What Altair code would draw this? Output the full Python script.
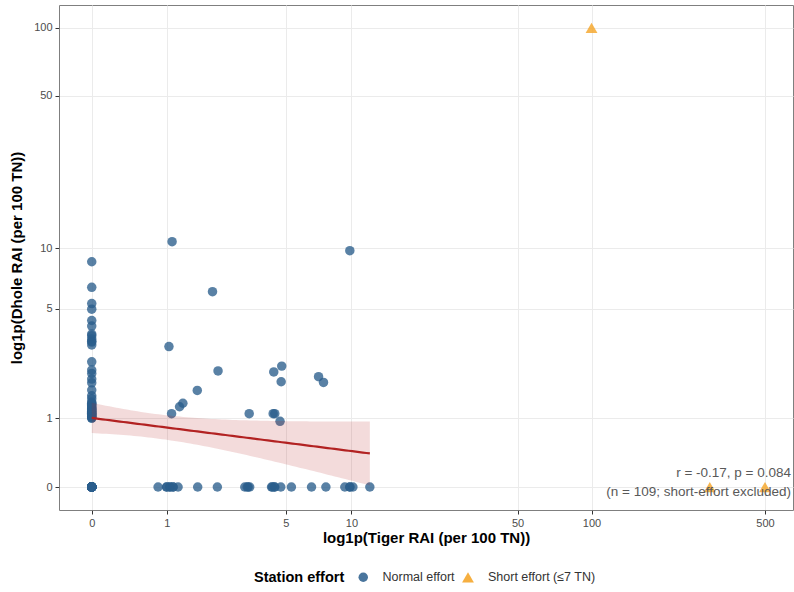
import numpy as np
import pandas as pd
import altair as alt

# ---- Station RAI values (detections per 100 trap nights) ----
# Normal-effort stations, grouped by where they fall
# stations with neither species detected
origin_tiger = [0] * 22
origin_dhole = [0] * 22

# tiger absent, dhole present
col_dhole = [8.62, 6.44, 5.32, 4.97, 4.33, 4.04, 3.65, 3.43, 3.29, 3.17,
             2.52, 2.24, 2.13, 1.96, 1.65, 1.50, 1.35, 1.24, 1.17, 1.10, 1.03,
             1.00, 1.00, 1.02, 1.04, 1.06, 1.06, 1.08, 1.10, 1.12, 1.14, 1.15,
             1.18, 1.20, 1.22, 1.27, 1.30, 1.32, 3.33, 3.57, 1.85, 1.43]
col_tiger = [0] * len(col_dhole)

# tiger present, dhole absent
row_tiger = [0.845, 0.994, 1.056, 1.119, 1.219, 1.66, 2.19, 3.11, 3.24, 3.30,
             4.26, 4.42, 4.73, 5.32, 6.61, 7.69, 9.35, 9.84, 10.15, 12.04,
             1.00, 1.06, 1.12, 3.20, 4.30, 4.40, 9.84]
row_dhole = [0] * len(row_tiger)

# both species detected
both_tiger = [2.05, 1.04, 2.21, 1.65, 1.32, 1.25, 1.09, 3.28, 4.34, 4.42,
              4.69, 4.37, 4.78, 4.75, 7.12, 7.50, 1.10, 9.84]
both_dhole = [6.12, 3.10, 2.21, 1.64, 1.32, 1.24, 1.09, 1.09, 1.09, 1.09,
              0.935, 2.18, 2.37, 1.88, 2.03, 1.86, 10.77, 9.75]

# Short-effort stations (<= 7 trap nights)
short_tiger = [100, 300, 500]
short_dhole = [100, 0, 0]

effort_labels = ["Normal effort", "Short effort (\u22647 TN)"]
stat_lines = ["r = -0.17, p = 0.084", "(n = 109; short-effort excluded)"]

normal_tiger = origin_tiger + col_tiger + row_tiger + both_tiger
normal_dhole = origin_dhole + col_dhole + row_dhole + both_dhole

points = pd.DataFrame({
    "tiger": normal_tiger + short_tiger,
    "dhole": normal_dhole + short_dhole,
    "effort": [effort_labels[0]] * len(normal_tiger) + [effort_labels[1]] * len(short_tiger),
})

# ---- Linear fit on the log1p scale (normal effort only), 95% band ----
X = np.log1p(np.array(normal_tiger, dtype=float))
Y = np.log1p(np.array(normal_dhole, dtype=float))
n = len(X)
slope, intercept = np.polyfit(X, Y, 1)
resid = Y - (intercept + slope * X)
s = np.sqrt(np.sum(resid ** 2) / (n - 2))
sxx = np.sum((X - X.mean()) ** 2)
t_crit = 1.982  # t quantile, 0.975, df = n - 2
grid = np.linspace(X.min(), X.max(), 80)
fit = intercept + slope * grid
se = s * np.sqrt(1.0 / n + (grid - X.mean()) ** 2 / sxx)


def inv_log1p(v):
    # inverse of the symmetric log1p scale used on both axes
    return np.sign(v) * np.expm1(np.abs(v))


fit_df = pd.DataFrame({
    "tiger": inv_log1p(grid),
    "fit": inv_log1p(fit),
    "lo": inv_log1p(fit - t_crit * se),
    "hi": inv_log1p(fit + t_crit * se),
})

FONT = "Liberation Sans"

x_scale = alt.Scale(type="symlog", constant=1, domain=[-0.353, 648], nice=False, zero=False)
y_scale = alt.Scale(type="symlog", constant=1, domain=[-0.26, 126], nice=False, zero=False)

x_axis = alt.Axis(values=[0, 1, 5, 10, 50, 100, 500], format="d",
                  title="log1p(Tiger RAI (per 100 TN))", labelPadding=3, titlePadding=2)
y_axis = alt.Axis(values=[0, 1, 5, 10, 50, 100], format="d",
                  title="log1p(Dhole RAI (per 100 TN))", labelPadding=3, titlePadding=9)

legend = alt.Legend(title="Station effort", orient="none", direction="horizontal",
                    legendX=195, legendY=565, titleOrient="left", titlePadding=12,
                    columnPadding=4, labelOffset=13, symbolOpacity=0.85)

effort_dom = effort_labels

pts = alt.Chart(points).mark_point(filled=True, opacity=0.78, strokeWidth=0).encode(
    x=alt.X("tiger:Q", scale=x_scale, axis=x_axis),
    y=alt.Y("dhole:Q", scale=y_scale, axis=y_axis),
    color=alt.Color("effort:N", scale=alt.Scale(domain=effort_dom, range=["#2a5d8c", "#f5a21f"]),
                    legend=legend),
    shape=alt.Shape("effort:N", scale=alt.Scale(domain=effort_dom, range=["circle", "triangle-up"]),
                    legend=legend),
    size=alt.Size("effort:N", scale=alt.Scale(domain=effort_dom, range=[90, 140]), legend=legend),
)

band = alt.Chart(fit_df).mark_area(color="#b22222", opacity=0.16).encode(
    x=alt.X("tiger:Q", scale=x_scale, axis=x_axis),
    y=alt.Y("lo:Q", scale=y_scale, axis=y_axis),
    y2="hi:Q",
)

line = alt.Chart(fit_df).mark_line(color="#b22222", strokeWidth=2.2).encode(
    x=alt.X("tiger:Q", scale=x_scale, axis=x_axis),
    y=alt.Y("fit:Q", scale=y_scale, axis=y_axis),
)

txt1 = alt.Chart(pd.DataFrame({"t": [stat_lines[0]]})).mark_text(
    align="right", baseline="middle", fontSize=13.5, color="#595959", font=FONT
).encode(x=alt.value(732), y=alt.value(468), text="t:N")

txt2 = alt.Chart(pd.DataFrame({"t": [stat_lines[1]]})).mark_text(
    align="right", baseline="middle", fontSize=13.5, color="#595959", font=FONT
).encode(x=alt.value(732), y=alt.value(487), text="t:N")

chart = alt.layer(pts, band, line, txt1, txt2).properties(
    width=734, height=505,
    autosize="none",
    padding={"left": 59, "top": 5, "right": 1, "bottom": 82},
    background="white",
).configure_view(
    stroke="#7f7f7f", strokeWidth=1
).configure_axis(
    grid=True, gridColor="#ebebeb", gridWidth=1, domain=False,
    tickColor="#333333", tickSize=4, labelColor="#4d4d4d", labelFontSize=11,
    labelFont=FONT, titleFont=FONT, titleFontSize=15, titleFontWeight="bold",
    titleColor="#000000",
).configure_legend(
    titleFont=FONT, titleFontSize=14.5, titleFontWeight="bold", titleColor="#000000",
    labelFont=FONT, labelFontSize=12.5, labelColor="#333333",
)

chart.save("out.html", embed_options={"renderer": "svg", "actions": False})
